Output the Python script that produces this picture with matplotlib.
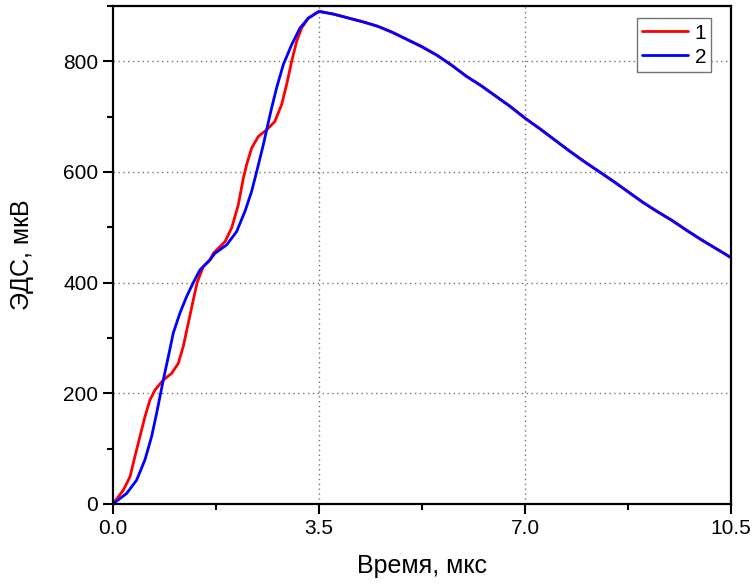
import numpy as np
import matplotlib
matplotlib.use("Agg")
import matplotlib.pyplot as plt
from matplotlib.ticker import MultipleLocator, FixedLocator

plt.rcParams.update({
    "font.family": ["Liberation Sans", "DejaVu Sans"],
    "font.size": 15,
})

# ---- data (time in us, EMF in uV) ----
t_rise1 = [0.0, 0.176, 0.289, 0.374, 0.459, 0.544, 0.629, 0.714, 0.855, 0.997,
           1.11, 1.195, 1.28, 1.365, 1.43, 1.535, 1.648, 1.705, 1.903, 2.017,
           2.13, 2.215, 2.27, 2.356, 2.469, 2.61, 2.75, 2.866, 2.95, 3.036,
           3.12, 3.206, 3.32, 3.5]
emf_rise1 = [0, 25, 49, 86, 122, 158, 188, 206, 224, 236,
             254, 285, 327, 369, 400, 429, 441, 453, 474, 499,
             541, 589, 613, 643, 664, 676, 691, 722, 758, 800,
             836, 860, 878, 890]

t_rise2 = [0.0, 0.232, 0.402, 0.544, 0.657, 0.742, 0.855, 0.94, 1.025, 1.138,
           1.252, 1.365, 1.478, 1.648, 1.733, 1.93, 2.10, 2.243, 2.356, 2.44,
           2.554, 2.61, 2.696, 2.78, 2.894, 3.036, 3.177, 3.32, 3.5]
emf_rise2 = [0, 19, 43, 80, 122, 164, 224, 266, 309, 345,
             375, 400, 423, 441, 453, 468, 492, 529, 565, 600,
             649, 676, 716, 752, 794, 830, 860, 878, 890]

t_decay = [3.5, 3.75, 4.0, 4.25, 4.5, 4.75, 5.0, 5.25, 5.5, 5.75, 6.0, 6.25,
           6.5, 6.75, 7.0, 7.25, 7.5, 7.75, 8.0, 8.25, 8.5, 8.75, 9.0, 9.25,
           9.5, 9.75, 10.0, 10.25, 10.5]
emf_decay = [890, 885, 878, 871, 863, 852, 839, 826, 811, 793, 773, 756,
             737, 718, 697, 678, 658, 638, 619, 601, 583, 564, 545, 528,
             512, 494, 477, 461, 445]

series = [("1", t_rise1, emf_rise1, "#ff0000"),
          ("2", t_rise2, emf_rise2, "#0000ff")]

fig = plt.figure(figsize=(7.53, 5.86), dpi=100)
ax = fig.add_axes([0.150, 0.140, 0.821, 0.850])

for label, t, e, color in series:
    tt = np.concatenate([t, t_decay[1:]])
    ee = np.concatenate([e, emf_decay[1:]])
    ax.plot(tt, ee, color=color, lw=2.0, label=label,
            solid_joinstyle="round", solid_capstyle="round")

ax.set_xlim(0, 10.5)
ax.set_ylim(0, 900)

ax.xaxis.set_major_locator(FixedLocator([0, 3.5, 7.0, 10.5]))
ax.xaxis.set_minor_locator(FixedLocator([1.75, 5.25, 8.75]))
ax.set_xticklabels(["0.0", "3.5", "7.0", "10.5"])
ax.yaxis.set_major_locator(MultipleLocator(200))
ax.yaxis.set_minor_locator(MultipleLocator(100))

ax.tick_params(which="major", direction="out", length=7, width=1.5, labelsize=15)
ax.tick_params(which="minor", direction="out", length=4, width=1.5)
for sp in ax.spines.values():
    sp.set_linewidth(1.6)

# dotted grid at inner major ticks only
for yv in [200, 400, 600, 800]:
    ax.axhline(yv, color="0.45", lw=1.0, ls=(0, (1, 2.5)), zorder=0)
for xv in [3.5, 7.0]:
    ax.axvline(xv, color="0.45", lw=1.0, ls=(0, (1, 2.5)), zorder=0)

ax.set_xlabel("Время, мкс", fontsize=18, labelpad=12)
ax.set_ylabel("ЭДС, мкВ", fontsize=18, labelpad=21)

leg = ax.legend(loc="upper right", bbox_to_anchor=(0.968, 0.975), fontsize=15,
                fancybox=False, framealpha=1, edgecolor="0.45",
                handlelength=2.2, handletextpad=0.3, borderpad=0.25,
                labelspacing=0.25, borderaxespad=0)
leg.get_frame().set_linewidth(1.0)

fig.savefig("out.png", dpi=100)
